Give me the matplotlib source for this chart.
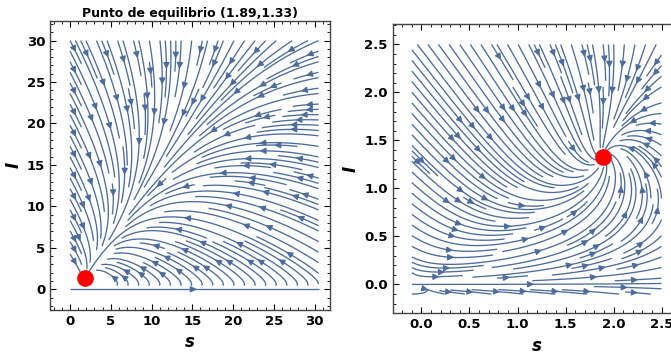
import numpy as np
import matplotlib.pyplot as plt
from matplotlib.ticker import MultipleLocator, FormatStrFormatter

plt.rcParams['font.weight'] = 'bold'

# equilibrium point shown in the chart
s_eq = 1.89
i_eq = 1.33

# model parameters (frequency-dependent SIS-type system)
beta = 1.0
gamma = 0.293
c = 0.587
Lam = (c - gamma) * i_eq

# plot windows
left_x = [-2.46, 31.9]
left_y = [-2.5, 32.4]
left_dom = [0, 30.5, 0, 30]

right_x = [-0.3, 2.7]
right_y = [-0.3, 2.71]
right_dom = [-0.1, 2.5, -0.1, 2.5]

col = '#4d6c9e'


def field(S, I):
    N = S + I
    N = np.where(np.abs(N) < 1e-6, 1e-6, N)
    inc = beta * S * I / N
    dS = Lam - inc + gamma * I
    dI = inc - c * I
    return dS, dI


def stream(ax, dom, dens):
    s = np.linspace(dom[0], dom[1], 200)
    i = np.linspace(dom[2], dom[3], 200)
    S, I = np.meshgrid(s, i)
    U, V = field(S, I)
    kw = dict(color=col, linewidth=0.95, density=dens, arrowsize=0.9,
              arrowstyle='-|>')
    try:
        ax.streamplot(S, I, U, V, num_arrows=3, **kw)
    except TypeError:
        ax.streamplot(S, I, U, V, **kw)


def style(ax, maj, mnr, fmt):
    ax.xaxis.set_major_locator(MultipleLocator(maj))
    ax.yaxis.set_major_locator(MultipleLocator(maj))
    ax.xaxis.set_minor_locator(MultipleLocator(mnr))
    ax.yaxis.set_minor_locator(MultipleLocator(mnr))
    ax.xaxis.set_major_formatter(FormatStrFormatter(fmt))
    ax.yaxis.set_major_formatter(FormatStrFormatter(fmt))
    ax.tick_params(which='both', direction='in', top=True, right=True)
    ax.tick_params(which='major', length=4, width=0.8, labelsize=9.5)
    ax.tick_params(which='minor', length=2, width=0.6)
    for sp in ax.spines.values():
        sp.set_color('#444444')
        sp.set_linewidth(1.0)
    ax.set_xlabel('s', fontsize=12, fontweight='bold', style='italic', labelpad=4)
    ax.set_ylabel('I', fontsize=12, fontweight='bold', style='italic', labelpad=3)


fig = plt.figure(figsize=(6.71, 3.56), dpi=100)

ax1 = fig.add_axes([50 / 671, 46 / 356, 280 / 671, 289.3 / 356])
stream(ax1, left_dom, 1.6)
ax1.plot([s_eq], [i_eq], 'o', color='red', markersize=11, zorder=5)
ax1.set_xlim(left_x)
ax1.set_ylim(left_y)
style(ax1, 5, 1, '%d')
ax1.set_title('Punto de equilibrio (1.89,1.33)', fontsize=9, fontweight='bold', pad=3)

ax2 = fig.add_axes([392.7 / 671, 42.7 / 356, 288 / 671, 289 / 356])
stream(ax2, right_dom, 1.6)
ax2.plot([s_eq], [i_eq], 'o', color='red', markersize=11, zorder=5)
ax2.set_xlim(right_x)
ax2.set_ylim(right_y)
style(ax2, 0.5, 0.1, '%.1f')

fig.savefig('out.png', dpi=100)
